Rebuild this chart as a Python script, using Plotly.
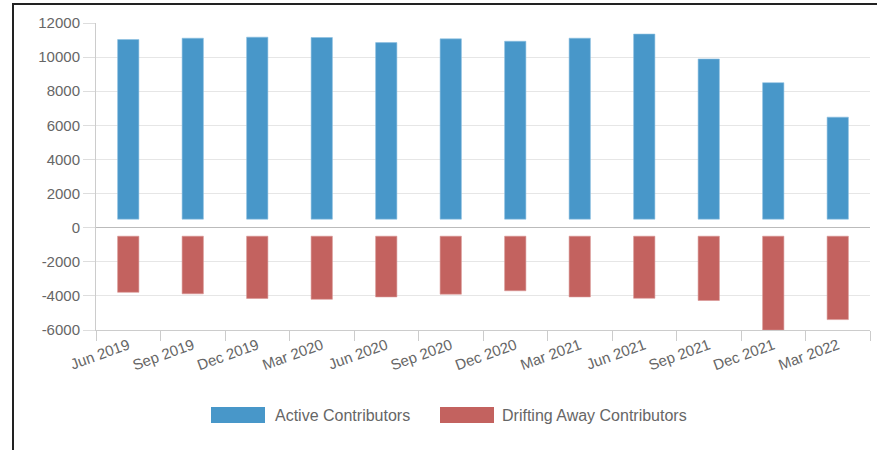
import plotly.graph_objects as go

categories = ["Jun 2019", "Sep 2019", "Dec 2019", "Mar 2020", "Jun 2020", "Sep 2020",
              "Dec 2020", "Mar 2021", "Jun 2021", "Sep 2021", "Dec 2021", "Mar 2022"]
active = [11030, 11110, 11170, 11150, 10850, 11070, 10930, 11110, 11350, 9890, 8500, 6480]
drifting = [-3790, -3880, -4150, -4200, -4060, -3900, -3700, -4060, -4140, -4270, -6000, -5390]
gap = 500
y_ticks = [-6000, -4000, -2000, 0, 2000, 4000, 6000, 8000, 10000, 12000]
y_tick_labels = ["-6000", "-4000", "-2000", "0", "2000", "4000", "6000", "8000", "10000", "12000"]
series_names = ["Active Contributors", "Drifting Away Contributors"]

BLUE = "#4897c9"
RED = "#c3625f"
GRAY_TXT = "#666666"

fig = go.Figure()
fig.add_trace(go.Bar(
    x=categories, y=[v - gap for v in active], base=gap,
    name=series_names[0], marker=dict(color=BLUE, line=dict(color="#8cc0e0", width=0.6)),
    width=0.33,
))
fig.add_trace(go.Bar(
    x=categories, y=[v + gap for v in drifting], base=-gap,
    name=series_names[1], marker=dict(color=RED, line=dict(color="#d89593", width=0.6)),
    width=0.33,
))

W, H = 877, 450
L, R, T, B = 96, 7, 23, 120
pw, ph = W - L - R, H - T - B


def px_x(x):
    return (x - L) / pw


def px_y(y):
    return (H - B - y) / ph


shapes = [dict(
    type="rect", xref="paper", yref="paper",
    x0=px_x(13), x1=px_x(880), y0=px_y(460), y1=px_y(4),
    line=dict(color="#222222", width=2), fillcolor="rgba(0,0,0,0)", layer="above",
)]
annotations = []
legend_items = [(211, 265, 273, BLUE), (440, 494, 500, RED)]
for (sx0, sx1, tx, col), name in zip(legend_items, series_names):
    shapes.append(dict(type="rect", xref="paper", yref="paper",
                       x0=px_x(sx0), x1=px_x(sx1), y0=px_y(423), y1=px_y(407),
                       line=dict(width=0), fillcolor=col))
    annotations.append(dict(text=name, xref="paper", yref="paper", x=px_x(tx), y=px_y(415),
                            xanchor="left", yanchor="middle", showarrow=False,
                            font=dict(size=16, color=GRAY_TXT)))

fig.update_layout(
    width=W, height=H,
    margin=dict(l=L, r=R, t=T, b=B, autoexpand=False),
    paper_bgcolor="white", plot_bgcolor="white",
    barmode="overlay",
    font=dict(family="Liberation Sans, Arial, sans-serif", size=15, color=GRAY_TXT),
    showlegend=False,
    xaxis=dict(
        type="category", tickson="boundaries", ticks="outside", ticklen=10, tickcolor="#cccccc",
        showgrid=False, showline=True, linecolor="#cccccc", linewidth=1,
        tickangle=-20, tickfont=dict(size=15, color=GRAY_TXT), automargin=False,
    ),
    yaxis=dict(
        range=[-6000, 12000], tickvals=y_ticks, ticktext=y_tick_labels,
        showgrid=True, gridcolor="#e6e6e6", gridwidth=1,
        zeroline=True, zerolinecolor="#bbbbbb", zerolinewidth=1,
        showline=True, linecolor="#cccccc", linewidth=1,
        ticks="outside", ticklen=12, tickcolor="#dddddd",
        tickfont=dict(size=15, color=GRAY_TXT), automargin=False,
    ),
    shapes=shapes,
    annotations=annotations,
)

fig.write_html("out.html", config={"displayModeBar": False},
               post_script="document.body.style.margin='0';document.body.style.overflow='hidden';")
